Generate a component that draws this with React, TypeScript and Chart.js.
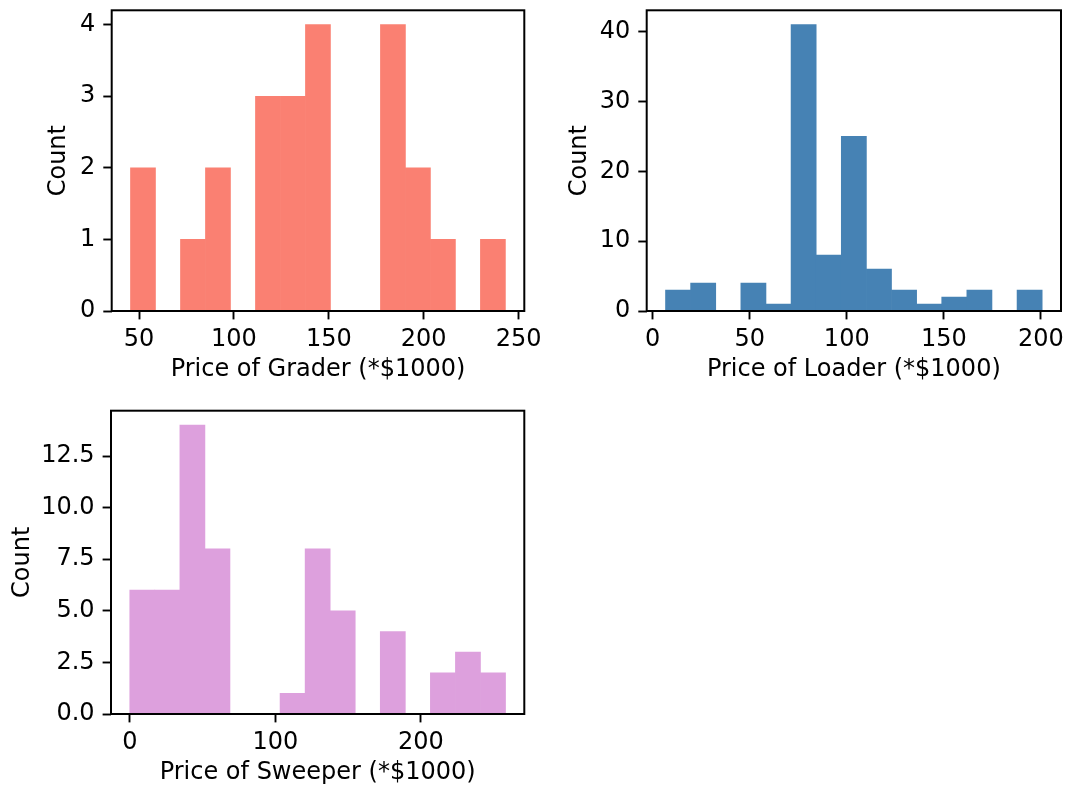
import React, { useEffect, useRef } from "react";
import { Chart, registerables } from "chart.js";

Chart.register(...registerables);

// ---- Data ----
const graderEdges = [45.5, 58.67, 71.84, 85.01, 98.18, 111.35, 124.52, 137.69, 150.86, 164.03, 177.2, 190.37, 203.54, 216.71, 229.88, 243.05];
const graderCounts = [2, 0, 1, 2, 0, 3, 3, 4, 0, 0, 4, 2, 1, 0, 1];
const graderXTicks = [50, 100, 150, 200, 250];
const graderYTicks = [0, 1, 2, 3, 4];

const loaderEdges = [6.6, 19.54, 32.48, 45.42, 58.36, 71.3, 84.24, 97.18, 110.12, 123.06, 136.0, 148.94, 161.88, 174.82, 187.76, 200.7];
const loaderCounts = [3, 4, 0, 4, 1, 41, 8, 25, 6, 3, 1, 2, 3, 0, 3];
const loaderXTicks = [0, 50, 100, 150, 200];
const loaderYTicks = [0, 10, 20, 30, 40];

const sweeperEdges = [0, 17.21, 34.43, 51.64, 68.85, 86.07, 103.28, 120.49, 137.71, 154.92, 172.13, 189.35, 206.56, 223.77, 240.99, 258.2];
const sweeperCounts = [6, 6, 14, 8, 0, 0, 1, 8, 5, 0, 4, 0, 2, 3, 2];
const sweeperXTicks = [0, 100, 200];
const sweeperYTicks = [0, 2.5, 5, 7.5, 10, 12.5];

const FONT = "'DejaVu Sans', sans-serif";
const FS = 24;

const boxPlugin = {
  id: "axesBox",
  afterDraw(chart: any) {
    const { ctx, chartArea } = chart;
    ctx.save();
    ctx.strokeStyle = "#000";
    ctx.lineWidth = 2;
    ctx.strokeRect(chartArea.left, chartArea.top, chartArea.right - chartArea.left, chartArea.bottom - chartArea.top);
    ctx.restore();
  },
};

type HistProps = {
  edges: number[];
  counts: number[];
  xTicks: number[];
  yTicks: number[];
  xMin: number;
  xMax: number;
  yMax: number;
  color: string;
  xLabel: string;
  yFmt: (v: number) => string;
  left: number;
  top: number;
  width: number;
  height: number;
  yAxisWidth: number;
  xAxisHeight: number;
  padTop: number;
  padRight: number;
  yTitlePad: number;
  xTitlePad: number;
};

function Hist(p: HistProps) {
  const ref = useRef<HTMLCanvasElement>(null);
  useEffect(() => {
    if (!ref.current) return;
    const data = p.counts.map((c, i) => ({ x: (p.edges[i] + p.edges[i + 1]) / 2, y: c }));
    const font = { family: FONT, size: FS };
    const chart = new Chart(ref.current, {
      type: "bar",
      data: {
        datasets: [
          {
            data: data as any,
            backgroundColor: p.color,
            borderWidth: 0,
            barPercentage: 1,
            categoryPercentage: 1,
          },
        ],
      },
      options: {
        animation: false,
        responsive: false,
        maintainAspectRatio: false,
        layout: { padding: { top: p.padTop, right: p.padRight, left: 0, bottom: 0 } },
        plugins: { legend: { display: false }, tooltip: { enabled: false } },
        scales: {
          x: {
            type: "linear",
            min: p.xMin,
            max: p.xMax,
            offset: false,
            grid: { display: true, drawOnChartArea: false, drawTicks: true, tickLength: 8.4, tickWidth: 1.9, tickColor: "#000", offset: false },
            border: { display: false },
            ticks: { font, color: "#000", padding: 6, autoSkip: false, maxRotation: 0, callback: (v: any) => String(v) },
            afterBuildTicks: (s: any) => {
              s.ticks = p.xTicks.map((v) => ({ value: v }));
            },
            afterFit: (s: any) => {
              s.height = p.xAxisHeight;
              s.paddingLeft = 0;
              s.paddingRight = 0;
            },
            title: { display: true, text: p.xLabel, font, color: "#000", padding: { top: 0, bottom: p.xTitlePad } },
          },
          y: {
            type: "linear",
            min: 0,
            max: p.yMax,
            grid: { display: true, drawOnChartArea: false, drawTicks: true, tickLength: 8.4, tickWidth: 1.9, tickColor: "#000" },
            border: { display: false },
            ticks: { font, color: "#000", padding: 8, autoSkip: false, callback: (v: any) => p.yFmt(Number(v)) },
            afterBuildTicks: (s: any) => {
              s.ticks = p.yTicks.map((v) => ({ value: v }));
            },
            afterFit: (s: any) => {
              s.width = p.yAxisWidth;
              s.paddingTop = 0;
              s.paddingBottom = 0;
            },
            title: { display: true, text: "Count", font, color: "#000", padding: { top: p.yTitlePad, bottom: 0 } },
          },
        },
      },
      plugins: [boxPlugin],
    });
    return () => chart.destroy();
  }, []);
  return (
    <canvas
      ref={ref}
      width={p.width}
      height={p.height}
      style={{ position: "absolute", left: p.left, top: p.top, width: p.width, height: p.height }}
    />
  );
}

export default function App() {
  return (
    <div style={{ position: "fixed", left: 0, top: 0, width: 1065, height: 788, background: "#fff", overflow: "hidden" }}>
      <Hist
        edges={graderEdges}
        counts={graderCounts}
        xTicks={graderXTicks}
        yTicks={graderYTicks}
        xMin={35.6}
        xMax={253}
        yMax={4.2}
        color="#FA8072"
        xLabel="Price of Grader (*$1000)"
        yFmt={(v) => String(v)}
        left={0}
        top={0}
        width={560}
        height={395}
        yAxisWidth={111.7}
        xAxisHeight={84}
        padTop={10.3}
        padRight={35.7}
        yTitlePad={44}
        xTitlePad={10.6}
      />
      <Hist
        edges={loaderEdges}
        counts={loaderCounts}
        xTicks={loaderXTicks}
        yTicks={loaderYTicks}
        xMin={-3.1}
        xMax={210.4}
        yMax={43.05}
        color="#4682B4"
        xLabel="Price of Loader (*$1000)"
        yFmt={(v) => String(v)}
        left={540}
        top={0}
        width={525}
        height={395}
        yAxisWidth={106.7}
        xAxisHeight={84}
        padTop={10.3}
        padRight={4}
        yTitlePad={25}
        xTitlePad={10.6}
      />
      <Hist
        edges={sweeperEdges}
        counts={sweeperCounts}
        xTicks={sweeperXTicks}
        yTicks={sweeperYTicks}
        xMin={-12.9}
        xMax={271.1}
        yMax={14.7}
        color="#DDA0DD"
        xLabel="Price of Sweeper (*$1000)"
        yFmt={(v) => v.toFixed(1)}
        left={0}
        top={400}
        width={560}
        height={388}
        yAxisWidth={111}
        xAxisHeight={74}
        padTop={10.7}
        padRight={35.7}
        yTitlePad={8.3}
        xTitlePad={0.6}
      />
    </div>
  );
}
